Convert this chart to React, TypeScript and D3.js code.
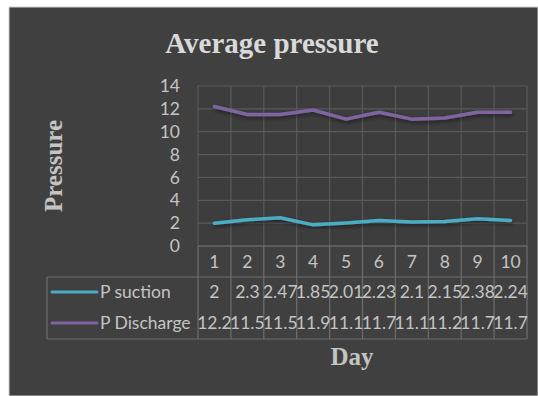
import React from "react";
import * as d3 from "d3";

const days = ["1", "2", "3", "4", "5", "6", "7", "8", "9", "10"];
const suction = [2, 2.3, 2.47, 1.85, 2.01, 2.23, 2.1, 2.15, 2.38, 2.24];
const discharge = [12.2, 11.5, 11.5, 11.9, 11.1, 11.7, 11.1, 11.2, 11.7, 11.7];
const suctionLabels = ["2", "2.3", "2.47", "1.85", "2.01", "2.23", "2.1", "2.15", "2.38", "2.24"];
const dischargeLabels = ["12.2", "11.5", "11.5", "11.9", "11.1", "11.7", "11.1", "11.2", "11.7", "11.7"];
const yTicks = [0, 2, 4, 6, 8, 10, 12, 14];
const seriesNames = ["P suction", "P Discharge"];
const colors = ["#4bacc6", "#8064a2"];

export default function App() {
  const W = 538, H = 396;
  const left = 198, right = 527, top = 86, bottom = 246;
  const x = d3.scaleBand().domain(days).range([left, right]);
  const y = d3.scaleLinear().domain([0, 14]).range([bottom, top]);
  const line = d3
    .line<number>()
    .x((_, i) => (x(days[i]) as number) + x.bandwidth() / 2)
    .y((d) => y(d));

  const tableLeft = 47, headerBottom = 277, tableBottom = 339;
  const headerY = 262, row1Y = 292, row2Y = 323;
  const txt = "#c4c4c4";
  const grid = "#5a5a5a";
  const font = "Lato, 'Open Sans', sans-serif";
  const serif = "'Liberation Serif', 'Times New Roman', serif";
  const fs = 17.5;

  const bounds = days.map((d) => x(d) as number).concat([right]);

  return (
    <svg width={W} height={H} style={{ position: "absolute", left: 0, top: 0 }}>
      <defs>
        <filter id="sh" x="-10%" y="-50%" width="120%" height="200%">
          <feGaussianBlur in="SourceAlpha" stdDeviation="2" />
          <feOffset dx="1" dy="2" result="b" />
          <feComponentTransfer><feFuncA type="linear" slope="0.5" /></feComponentTransfer>
          <feMerge><feMergeNode /><feMergeNode in="SourceGraphic" /></feMerge>
        </filter>
      </defs>
      <rect x={0} y={0} width={W} height={H} fill="#ffffff" />
      <rect x={9} y={7} width={W - 9} height={H - 7} fill="#404040" stroke="#cfcfcf" strokeWidth={1} />
      <rect x={left} y={top} width={right - left} height={bottom - top} fill="#3d3d3d" />
      {yTicks.map((t) => (
        <line key={"h" + t} x1={left} x2={right} y1={y(t)} y2={y(t)} stroke={grid} strokeWidth={1.2} />
      ))}
      {bounds.map((b, i) => (
        <line key={"v" + i} x1={b} x2={b} y1={top} y2={bottom} stroke={grid} strokeWidth={1.2} />
      ))}
      {yTicks.map((t) => (
        <text key={"t" + t} x={180} y={y(t)} dy="0.35em" textAnchor="end" fill={txt} fontFamily={font} fontSize={fs}>
          {t}
        </text>
      ))}
      {[suction, discharge].map((s, i) => (
        <path key={"s" + i} d={line(s) || ""} fill="none" stroke={colors[i]} strokeWidth={3.5} strokeLinejoin="round" strokeLinecap="round" filter="url(#sh)" />
      ))}
      <g stroke="#6e6e6e" strokeWidth={1.2} fill="none">
        <line x1={left} x2={right} y1={bottom} y2={bottom} />
        <line x1={tableLeft} x2={right} y1={headerBottom} y2={headerBottom} />
        <line x1={tableLeft} x2={right} y1={tableBottom} y2={tableBottom} />
        <line x1={tableLeft} x2={tableLeft} y1={headerBottom} y2={tableBottom} />
        {bounds.map((b, i) => (
          <line key={"tv" + i} x1={b} x2={b} y1={bottom} y2={tableBottom} />
        ))}
      </g>
      {days.map((d) => (
        <text key={"d" + d} x={(x(d) as number) + x.bandwidth() / 2} y={headerY} dy="0.35em" textAnchor="middle" fill={txt} fontFamily={font} fontSize={fs}>
          {d}
        </text>
      ))}
      {[suctionLabels, dischargeLabels].map((row, r) =>
        row.map((v, i) => (
          <text key={"c" + r + i} x={(x(days[i]) as number) + x.bandwidth() / 2} y={r === 0 ? row1Y : row2Y} dy="0.35em" textAnchor="middle" fill={txt} fontFamily={font} fontSize={fs}>
            {v}
          </text>
        ))
      )}
      {seriesNames.map((n, i) => {
        const yy = i === 0 ? row1Y : row2Y;
        return (
          <g key={"l" + i}>
            <line x1={52} x2={97} y1={yy} y2={yy} stroke={colors[i]} strokeWidth={3} strokeLinecap="round" />
            <text x={100} y={yy} dy="0.35em" fill={txt} fontFamily={font} fontSize={fs}>
              {n}
            </text>
          </g>
        );
      })}
      <text x={272} y={53} textAnchor="middle" fill="#d9d9d9" fontFamily={serif} fontWeight="bold" fontSize={29}>
        Average pressure
      </text>
      <text transform="translate(62,166) rotate(-90)" textAnchor="middle" fill="#c4c4c4" fontFamily={serif} fontWeight="bold" fontSize={25}>
        Pressure
      </text>
      <text x={352} y={365} textAnchor="middle" fill="#c4c4c4" fontFamily={serif} fontWeight="bold" fontSize={25}>
        Day
      </text>
    </svg>
  );
}
